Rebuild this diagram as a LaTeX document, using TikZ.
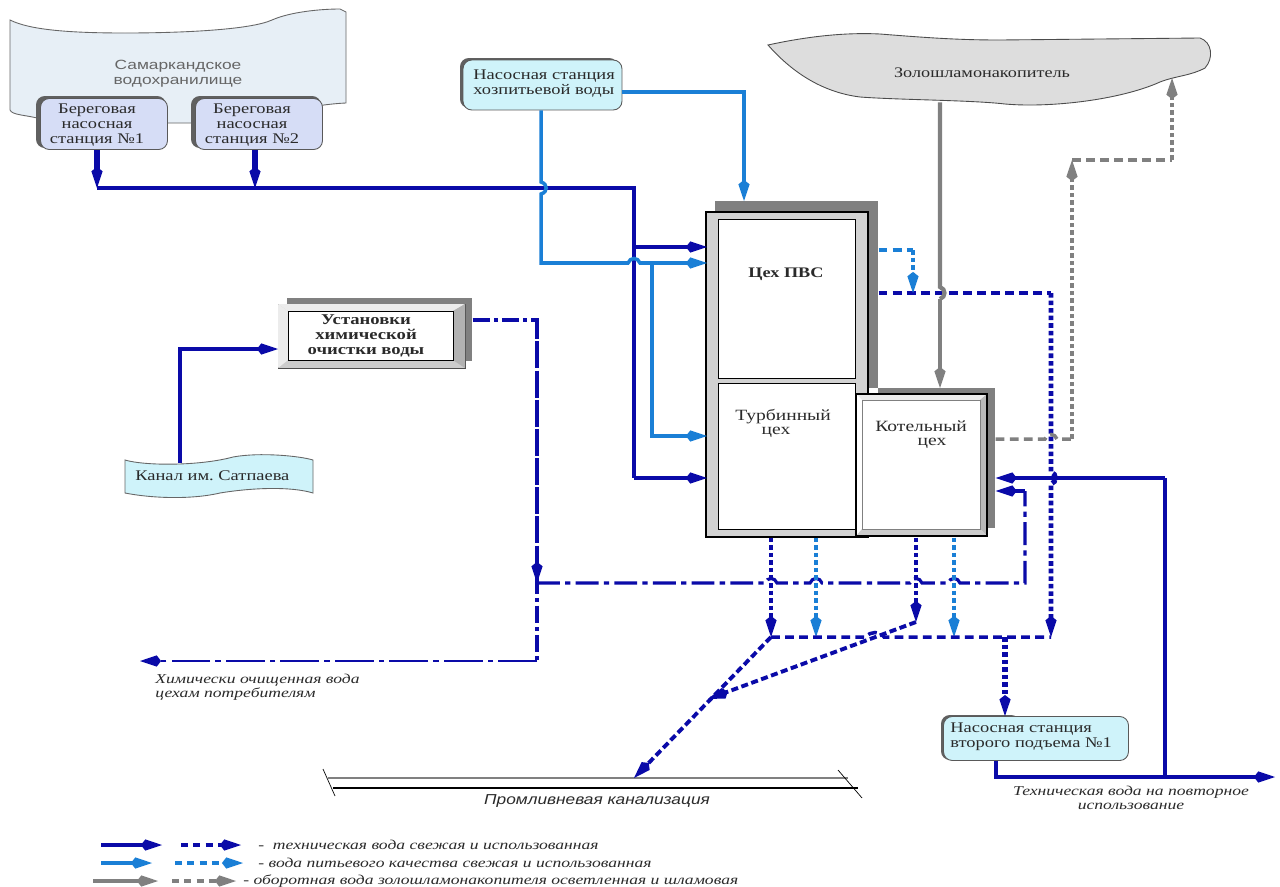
\documentclass[tikz,border=0pt]{standalone}
\usepackage{fontspec}
\usetikzlibrary{arrows.meta}
\setmainfont{Liberation Serif}
\newfontfamily\wideserif[FakeStretch=1.25]{Liberation Serif}
\newfontfamily\wideit[FakeStretch=1.3]{Liberation Serif Italic}
\newfontfamily\widesans[FakeStretch=1.3]{Liberation Sans}
\newfontfamily\widesansit[FakeStretch=1.2]{Liberation Sans Italic}
\definecolor{tblue}{HTML}{0A0AA8}
\definecolor{wblue}{HTML}{1A7FD6}
\definecolor{ggray}{HTML}{808080}
\definecolor{ink}{HTML}{2A2A2A}
\definecolor{lav}{HTML}{D6DDF6}
\definecolor{pale}{HTML}{CFF3FA}
\definecolor{resv}{HTML}{E7EFF6}
\tikzset{
  x=0.02cm,y=-0.02cm,
  flow/.style={line width=2pt,line join=miter},
  tech/.style={flow,draw=tblue,-{Kite[length=12pt,width=6.4pt,inset=2.5pt,fill=tblue]}},
  tline/.style={flow,draw=tblue},
  drink/.style={flow,draw=wblue,-{Kite[length=12pt,width=6.4pt,inset=2.5pt,fill=wblue]}},
  dline/.style={flow,draw=wblue},
  recyc/.style={flow,draw=ggray,-{Kite[length=12pt,width=6.4pt,inset=2.5pt,fill=ggray]}},
  dashh/.style={dash pattern=on 5pt off 3pt},
  diagd/.style={line width=2.2pt,dash pattern=on 4pt off 2pt},
  dotv/.style={line width=2.3pt,dash pattern=on 2.6pt off 1.7pt},
  chemd/.style={line width=1.8pt,dash pattern=on 10pt off 2.2pt on 2.2pt off 2.2pt},
  chemlong/.style={line width=1.6pt,dash pattern=on 22pt off 3pt on 3pt off 3pt},
  chemmid/.style={line width=1.8pt,dash pattern=on 13pt off 3pt on 3pt off 3pt},
  txt/.style={inner sep=0pt,text=ink,font=\wideserif\fontsize{8.4}{8.6}\selectfont,align=left},
  shoptxt/.style={txt,font=\wideserif\fontsize{8.9}{8.6}\selectfont},
  stationbox/.style={draw=gray!70!black,line width=0.5pt,rounded corners=5pt,inner sep=0pt,fill=#1},
  shade/.style={fill=ggray,draw=none,inner sep=0pt},
  panel/.style={draw=black,line width=0.8pt,inner sep=0pt,fill=white},
  note/.style={inner sep=0pt,text=ink,font=\wideit\fontsize{7.7}{8}\selectfont,align=center},
}
\begin{document}
\begin{tikzpicture}
\useasboundingbox (0,0) rectangle (1280,886);
\fill[white] (0,0) rectangle (1280,886);

% reservoir
\path[draw=gray!80!black,line width=0.5pt,fill=resv]
 (10,20) .. controls (30,30) and (70,33) .. (125,33)
 .. controls (180,33) and (250,30) .. (272,20)
 .. controls (290,12) and (320,9) .. (340,9) -- (346,12) -- (346,103)
 .. controls (300,105) and (250,123) .. (190,123) -- (168,123) -- (37,118)
 .. controls (25,115) and (12,115) .. (10,110) -- cycle;
\node[inner sep=0pt,text=gray!80!black,align=center,font=\widesans\fontsize{7.6}{8.6}\selectfont] (restxt) at (178,74) {Самаркандское\\водохранилище};

% stations on the reservoir
\fill[gray!75!black,rounded corners=5pt] (36,96) rectangle (166,148);
\node[stationbox={lav},minimum width=2.54cm,minimum height=1.02cm] (st1) at (104,124) {};
\node[txt,anchor=center,align=center] (st1t) at (97,125) {Береговая\\насосная\\станция №1};
\fill[gray!75!black,rounded corners=5pt] (191,96) rectangle (321,148);
\node[stationbox={lav},minimum width=2.54cm,minimum height=1.02cm] (st2) at (259,124) {};
\node[txt,anchor=center,align=center] (st2t) at (252,125) {Береговая\\насосная\\станция №2};

% drinking water station
\fill[gray!75!black,rounded corners=5pt] (460,58) rectangle (618,108);
\node[stationbox={pale},minimum width=3.18cm,minimum height=1cm] (hoz) at (542.5,85) {};
\node[txt,anchor=west] (hozt) at (473,84) {Насосная станция\\хозпитьевой воды};

% ash pond
\path[draw=black!70,line width=0.5pt,fill=gray!27]
 (768,45) .. controls (800,38) and (840,32) .. (880,34)
 .. controls (930,38) and (960,40) .. (1000,40) -- (1200,38)
 .. controls (1212,42) and (1214,58) .. (1205,68)
 .. controls (1190,76) and (1175,76) .. (1160,82)
 .. controls (1120,100) and (1050,108) .. (1005,104)
 .. controls (970,100) and (900,100) .. (860,97)
 .. controls (820,92) and (790,70) .. (768,45) -- cycle;
\node[inner sep=0pt,text=ink,font=\wideserif\fontsize{8.3}{9}\selectfont] (ash) at (982,73) {Золошламонакопитель};

% shop block
\node[shade,minimum width=3.26cm,minimum height=3.74cm,anchor=north west] (blockshade) at (715,201) {};
\node[shade,minimum width=2.34cm,minimum height=2.80cm,anchor=north west] (boilshade) at (878,388) {};
\node[draw=black,line width=1pt,fill=gray!35,inner sep=0pt,minimum width=3.24cm,minimum height=6.5cm,anchor=north west] (block) at (705,211) {};
\node[panel,minimum width=2.74cm,minimum height=3.18cm,anchor=north west] (pvs) at (718,219) {};
\node[panel,minimum width=2.74cm,minimum height=2.92cm,anchor=north west] (turb) at (718,383) {};
\node[draw=black,line width=0.8pt,fill=gray!15,inner sep=0pt,minimum width=2.62cm,minimum height=2.84cm,anchor=north west] (boilout) at (856,394) {};
\fill[white] (856,394) -- (862,400) -- (862,529) -- (856,536) -- cycle;
\fill[gray!55] (987,394) -- (980,400) -- (980,529) -- (987,536) -- cycle;
\fill[gray!40] (856,536) -- (862,529) -- (980,529) -- (987,536) -- cycle;
\draw[black,line width=0.8pt] (856,394) rectangle (987,536);
\node[draw=gray,line width=0.5pt,fill=white,inner sep=0pt,minimum width=2.36cm,minimum height=2.58cm,anchor=north west] (boil) at (862,400) {};
\node[txt,font=\wideserif\bfseries\fontsize{8.3}{9}\selectfont] (pvst) at (786,274) {Цех ПВС};
\node[shoptxt,anchor=north west] (turbt1) at (735,409) {Турбинный};
\node[shoptxt] (turbt2) at (776,432) {цех};
\node[shoptxt,anchor=north west] (boilt1) at (875,420) {Котельный};
\node[shoptxt] (boilt2) at (932,443) {цех};

% chemical treatment
\node[shade,minimum width=3.7cm,minimum height=1.26cm,anchor=north west] (chemshade) at (287,298) {};
\node[draw=black!70,line width=0.6pt,fill=gray!40,inner sep=0pt,minimum width=3.74cm,minimum height=1.28cm,anchor=north west] (chemout) at (278,304) {};
\fill[gray!15] (278,304) -- (288,311) -- (288,360) -- (278,368) -- cycle;
\fill[gray!15] (278,304) -- (288,311) -- (453,311) -- (465,304) -- cycle;
\fill[gray!60] (465,304) -- (453,311) -- (453,360) -- (465,368) -- cycle;
\node[panel,minimum width=3.3cm,minimum height=0.98cm,anchor=north west] (chem) at (288,311) {};
\node[txt,align=center,font=\wideserif\bfseries\fontsize{8.5}{8.6}\selectfont] (chemt) at (366,336) {Установки\\химической\\очистки воды};

% canal
\path[draw=gray!80!black,line width=0.5pt,fill=pale]
 (125,460) .. controls (145,466) and (200,466) .. (233,457)
 .. controls (260,452) and (300,456) .. (313,460) -- (313,493)
 .. controls (290,486) and (250,488) .. (220,493)
 .. controls (190,500) and (150,498) .. (125,493) -- cycle;
\node[txt,anchor=west,text=ink] (canal) at (135,476) {Канал им.\ Сатпаева};
\coordinate (canaltop) at (180,463);

% second lift station
\fill[gray!75!black,rounded corners=5pt] (941,715) rectangle (1020,760);
\node[stationbox={pale},minimum width=3.7cm,minimum height=0.88cm] (ns2) at (1036,738.5) {};
\node[txt,anchor=west] (ns2t) at (950,737) {Насосная станция\\второго подъема №1};

% sewer
\node[inner sep=0pt,text=ink,font=\widesansit\fontsize{8.2}{9}\selectfont] (sewert) at (597,801) {Промливневая канализация};
\draw[ggray,line width=1.4pt] (328,778) -- (848,778);
\draw[black,line width=1.2pt] (333,788) -- (858,788);
\draw[black,line width=0.4pt] (323,769) -- (335,796);
\draw[black,line width=0.4pt] (838,770) -- (862,798);

% junctions
\coordinate (mainL) at (97,188);
\coordinate (mainM) at (255,188);
\coordinate (mainC) at (634,188);
\coordinate (mainB) at (634,247);
\coordinate (mainD) at (634,478);
\coordinate (dr1) at (541,263);
\coordinate (dr2) at (652,263);
\coordinate (dr3) at (652,436);
\coordinate (dr4) at (744,92);
\coordinate (c1) at (537,320);
\coordinate (c2) at (537,583);
\coordinate (c3) at (537,661);
\coordinate (c4) at (140,661);
\coordinate (c5) at (1025,583);
\coordinate (c6) at (1025,491);
\coordinate (col1) at (771,637);
\coordinate (col2) at (816,637);
\coordinate (col3) at (916,622);
\coordinate (col4) at (954,637);
\coordinate (col5) at (1051,637);
\coordinate (col6) at (1005,637);
\coordinate (sewA) at (634,778);
\coordinate (sewB) at (708,699);
\coordinate (r1) at (1051,293);
\coordinate (bl1) at (913,250);
\coordinate (bl2) at (913,293);
\coordinate (g1) at (1072,439);
\coordinate (g2) at (1072,160);
\coordinate (g3) at (1172,160);
\coordinate (g4) at (1172,78);
\coordinate (ret1) at (996,777);
\coordinate (ret2) at (1165,777);
\coordinate (ret3) at (1165,478);
\coordinate (ret4) at (1275,777);

% technical fresh water
\draw[tech,line width=3pt] (st1.south -| mainL) -- (mainL);
\draw[tech,line width=3pt] (st2.south -| mainM) -- (mainM);
\draw[tline] (mainL) -- (mainC) -- (mainD);
\draw[tech] (mainB) -- (707,247);
\draw[tech] (mainD) -- (707,478);
\draw[tech] (canaltop) -- (180,349) -- (chemout.west |- 0,349);

% drinking water
\draw[drink] (hoz.east |- dr4) -- (dr4) -- (blockshade.north -| dr4);
\draw[dline] (hoz.south -| dr1) -- (541,182) .. controls (548,184) and (548,192) .. (541,194) -- (dr1) -- (628,263) .. controls (630,257) and (638,257) .. (640,263) -- (dr2);
\draw[drink] (dr2) -- (707,263);
\draw[drink] (dr2) -- (dr3) -- (707,436);

% chemically treated water
\draw[chemd,draw=tblue] (chemshade.east |- c1) -- (c1) -- (c3);
\draw[tech,chemlong] (c3) -- (c4);
\draw[tech,chemd] (c1) -- (c2);
\draw[chemmid,draw=tblue] (c2) -- (765,583) .. controls (767,577) and (775,577) .. (777,583)
 -- (810,583) .. controls (812,577) and (820,577) .. (822,583)
 -- (910,583) .. controls (912,577) and (920,577) .. (922,583)
 -- (948,583) .. controls (950,577) and (958,577) .. (960,583) -- (c5) -- (c6);
\draw[tech] (c6) -- (boilshade.east |- c6);

% used water, downward
\draw[tech,dotv] (block.south -| col1) -- (col1);
\draw[drink,dotv] (block.south -| col2) -- (col2);
\draw[tech,dotv] (block.south -| col3) -- (col3);
\draw[drink,dotv] (block.south -| col4) -- (col4);
\draw[tline,dashh] (col1) -- (866,637) .. controls (870,631) and (880,631) .. (884,637) -- (col5);
\draw[tech,dotv,line width=3pt] (col6) -- (ns2.north -| col6);
\draw[tech,diagd] (col1) -- (sewA);
\draw[tech,diagd] (col3) -- (sewB);

% used water from PVS
\draw[tline,dashh] (blockshade.east |- r1) -- (r1);
\draw[tech,dotv,line width=2.8pt] (r1) -- (1051,472) .. controls (1057,474) and (1057,482) .. (1051,484) -- (col5);
\draw[dline,dashh] (blockshade.east |- bl1) -- (bl1);
\draw[drink,dotv] (bl1) -- (bl2);

% return water
\draw[flow,draw=ggray,line width=2.4pt] (ash.south -| 940,0) ++(0,24) -- (940,287) .. controls (946,289) and (946,297) .. (940,299);
\draw[recyc,line width=2.4pt] (940,299) -- (boilshade.north -| 940,0);
\draw[flow,draw=ggray,dashh] (boilshade.east |- g1) -- (1045,439) .. controls (1047,433) and (1055,433) .. (1057,439) -- (g1);
\draw[recyc,dotv,line width=2.6pt] (g1) -- (g2);
\draw[flow,draw=ggray,dashh] (g2) -- (g3);
\draw[recyc,dotv,line width=2.6pt] (g3) -- (g4);

% re-use line
\draw[tline] (ns2.south -| ret1) -- (ret1) -- (ret2);
\draw[tech] (ret2) -- (ret4);
\draw[tline] (ret2) -- (ret3);
\draw[tech] (ret3) -- (boilshade.east |- ret3);

% notes
\node[note,align=left,anchor=north west] (n1) at (155,674) {Химически очищенная вода\\цехам потребителям};
\node[note] (n2) at (1131,798) {Техническая вода на повторное\\использование};

% legend
\coordinate (a1) at (101,845); \coordinate (a2) at (162,845);
\coordinate (a3) at (181,845); \coordinate (a4) at (241,845);
\coordinate (b1) at (101,863); \coordinate (b2) at (152,863);
\coordinate (b3) at (175,863); \coordinate (b4) at (243,863);
\coordinate (d1) at (93,881); \coordinate (d2) at (158,881);
\coordinate (d3) at (172,881); \coordinate (d4) at (236,881);
\draw[tech] (a1) -- (a2);
\draw[tech,dash pattern=on 4pt off 3pt] (a3) -- (a4);
\draw[drink] (b1) -- (b2);
\draw[drink,dash pattern=on 4pt off 3pt] (b3) -- (b4);
\draw[recyc] (d1) -- (d2);
\draw[recyc,dash pattern=on 4pt off 3pt] (d3) -- (d4);
\node[note,anchor=west] (l1) at (258,845) {- \ техническая вода свежая и использованная};
\node[note,anchor=west] (l2) at (258,863) {- вода питьевого качества свежая и использованная};
\node[note,anchor=west] (l3) at (243,881) {- оборотная вода золошламонакопителя осветленная и шламовая};
\end{tikzpicture}
\end{document}
